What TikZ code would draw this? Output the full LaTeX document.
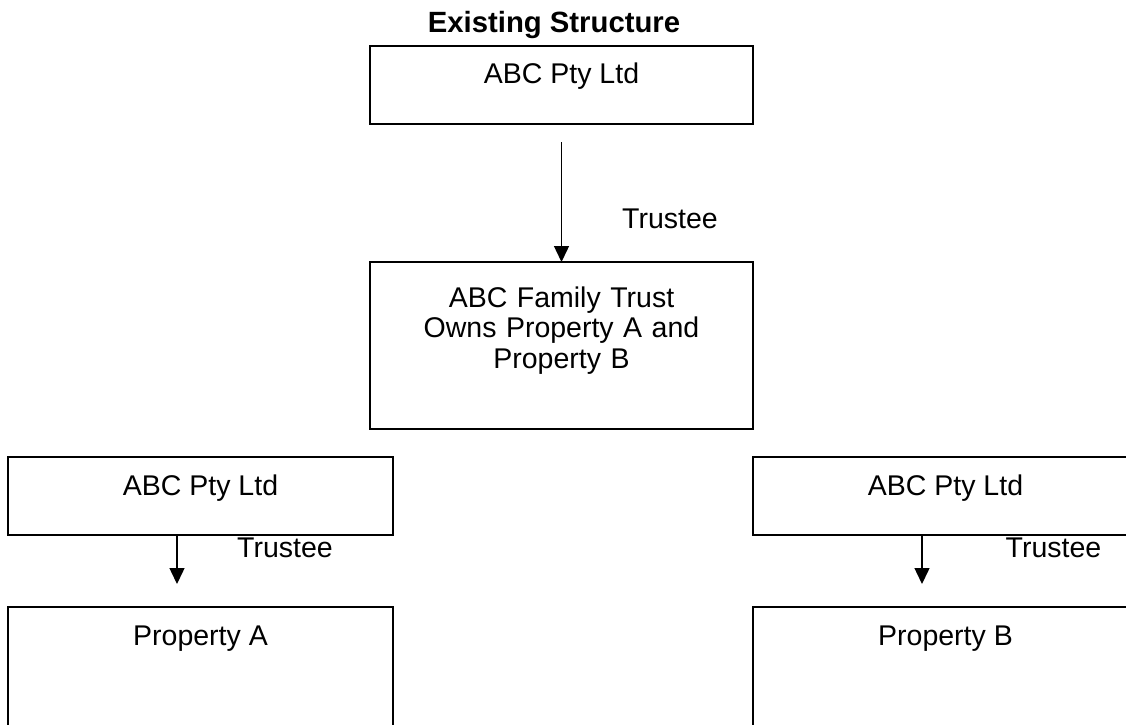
\documentclass[tikz,border=0pt]{standalone}
\usepackage{fontspec}
\setmainfont{Liberation Sans}
\usetikzlibrary{positioning,arrows.meta,calc}
\tikzset{
  box/.style={draw=black, line width=1.5pt, minimum width=383pt, minimum height=78pt, inner sep=0pt, outer sep=0pt},
  tx/.style={font=\fontsize{28.5}{30.5}\selectfont, anchor=base, inner sep=0pt},
  ttl/.style={font=\fontsize{29.3}{31}\selectfont\bfseries, anchor=base, inner sep=0pt},
  arr/.style={-{Triangle[length=16pt, width=15pt]}, line width=1.4pt},
}

\begin{document}
\begin{tikzpicture}[x=1pt, y=-1pt, node distance=72pt and 360pt]
\useasboundingbox (0,0) rectangle (1126,724);
\clip (0,0) rectangle (1126,724);
% top of the tree
\node[ttl] (title) at (554,32) {Existing Structure};
\node[box] (abc) at (561.5,85) {};
\node[tx] (abcT) at ($(abc.north)+(0,37)$) {ABC Pty Ltd};
\node[box, minimum height=167pt] (fam) at (561.5,345.5) {};
\node[tx, text width=300pt, align=center] (famT) at ($(fam.north)+(0,45)$) {ABC Family Trust\\Owns Property A and\\Property B};
\draw[arr, shorten <=18pt] (abc) -- (fam);
\node[tx] (tr0) at (670,228) {Trustee};
% left branch
\node[box, minimum width=385pt] (ownA) at (200.5,496) {};
\node[tx] (ownAT) at ($(ownA.north)+(0,38)$) {ABC Pty Ltd};
\node[box, minimum width=385pt, minimum height=160pt, below=72pt of ownA.south, anchor=north] (propA) {};
\node[tx] (propAT) at ($(propA.north)+(0,38)$) {Property A};
\coordinate (tipA) at (177,584);
\draw[arr] (ownA.south -| tipA) -- (tipA);
\node[tx] (trA) at (285,557) {Trustee};
% right branch
\node[box, minimum width=385pt, right=360pt of ownA] (ownB) {};
\node[tx] (ownBT) at ($(ownB.north)+(0,38)$) {ABC Pty Ltd};
\node[box, minimum width=385pt, minimum height=160pt, below=72pt of ownB.south, anchor=north] (propB) {};
\node[tx] (propBT) at ($(propB.north)+(0,38)$) {Property B};
\coordinate (tipB) at (922,584);
\draw[arr] (ownB.south -| tipB) -- (tipB);
\node[tx] (trB) at (1053.5,557) {Trustee};
\end{tikzpicture}
\end{document}
